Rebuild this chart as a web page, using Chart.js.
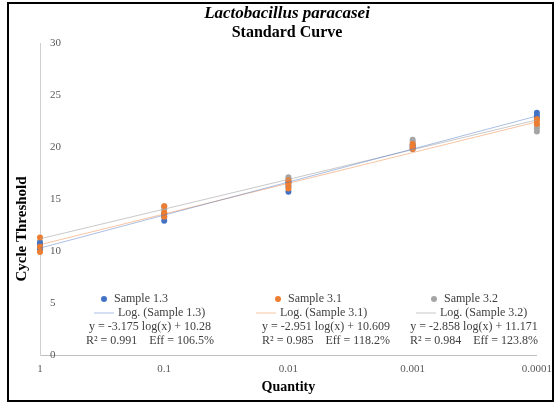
<!DOCTYPE html>
<html>
<head>
<meta charset="utf-8">
<script src="https://cdn.jsdelivr.net/npm/chart.js@4.4.1/dist/chart.umd.min.js"></script>
<style>
    body { margin: 0; background: #fff; }
    #frame { position: absolute; left: 7px; top: 2px; width: 543px; height: 396px; border: 2px solid #000; }
    #wrap { position: absolute; left: 9px; top: 4px; width: 551px; height: 396px; }
</style>
</head>
<body>
<div id="frame"></div>
<div id="wrap"><canvas id="chart" width="551" height="396"></canvas></div>
<script>
// quantities on the x axis (dilution series)
const quantities = [1, 0.1, 0.01, 0.001, 0.0001];
const xTickLabels = ['1', '0.1', '0.01', '0.001', '0.0001'];

// Ct replicates per quantity
const sample13 = [[10.2, 10.5, 10.8], [12.9, 13.3, 13.6], [15.7, 16.2, 16.6], [19.8, 20.0, 20.2], [22.8, 23.0, 23.3]];
const sample31 = [[9.9, 10.4, 11.3], [13.3, 13.7, 14.3], [16.0, 16.4, 16.8], [19.8, 20.0, 20.3], [22.2, 22.5, 22.7]];
const sample32 = [[10.5, 10.9], [13.6, 14.0, 14.3], [16.6, 16.9, 17.1], [20.2, 20.5, 20.7], [21.5, 21.8, 22.1]];

// trendline ends at x = 1 and x = 0.0001
const trendX = [1, 0.0001];
const trend13 = [10.28, 22.98];
const trend31 = [10.609, 22.413];
const trend32 = [11.171, 22.603];

const sampleNames = ['Sample 1.3', 'Sample 3.1', 'Sample 3.2'];
const trendNames = ['Log. (Sample 1.3)', 'Log. (Sample 3.1)', 'Log. (Sample 3.2)'];
const equations = ['y = -3.175 log(x) + 10.28', 'y = -2.951 log(x) + 10.609', 'y = -2.858 log(x) + 11.171'];
const fitStats = ['R\u00b2 = 0.991    Eff = 106.5%', 'R\u00b2 = 0.985    Eff = 118.2%', 'R\u00b2 = 0.984    Eff = 123.8%'];

const colors = ['#4472C4', '#ED7D31', '#A5A5A5'];
const trendColors = ['rgba(68,114,196,0.45)', 'rgba(237,125,49,0.45)', 'rgba(165,165,165,0.6)'];
const serif = '"Liberation Serif", "DejaVu Serif", serif';

function toPoints(reps) {
    const pts = [];
    reps.forEach((list, i) => list.forEach(v => pts.push({ x: quantities[i], y: v })));
    return pts;
}
function toLine(vals) {
    return vals.map((v, i) => ({ x: trendX[i], y: v }));
}

// title, y title and legend block, drawn over the plot like the Excel chart
const overlay = {
    id: 'overlay',
    afterDraw(chart) {
        const ctx = chart.ctx;
        const ox = -9, oy = -4; // page -> canvas
        ctx.save();
        ctx.fillStyle = '#000';
        ctx.textAlign = 'center';
        ctx.textBaseline = 'middle';
        ctx.font = 'italic bold 17px ' + serif;
        ctx.fillText('Lactobacillus paracasei', 287 + ox, 14 + oy);
        ctx.font = 'bold 16px ' + serif;
        ctx.fillText('Standard Curve', 287 + ox, 33 + oy);

        // y axis title
        ctx.save();
        ctx.translate(22 + ox, 229 + oy);
        ctx.rotate(-Math.PI / 2);
        ctx.font = 'bold 15px ' + serif;
        ctx.fillText('Cycle Threshold', 0, 0);
        ctx.restore();

        ctx.font = '12px ' + serif;
        const markX = [104, 278, 434];
        const lineX = [94, 256, 416];
        const eqX = [150, 326, 474];
        for (let i = 0; i < 3; i++) {
            // marker row
            ctx.fillStyle = colors[i];
            ctx.beginPath();
            ctx.arc(markX[i] + ox, 299 + oy, 3, 0, Math.PI * 2);
            ctx.fill();
            ctx.fillStyle = '#404040';
            ctx.textAlign = 'left';
            ctx.fillText(sampleNames[i], markX[i] + 10 + ox, 299 + oy);
            // trendline row
            ctx.strokeStyle = trendColors[i];
            ctx.lineWidth = 1;
            ctx.beginPath();
            ctx.moveTo(lineX[i] + ox, 313 + oy);
            ctx.lineTo(lineX[i] + 20 + ox, 313 + oy);
            ctx.stroke();
            ctx.fillText(trendNames[i], lineX[i] + 24 + ox, 313 + oy);
            // equation labels
            ctx.textAlign = 'center';
            ctx.fillText(equations[i], eqX[i] + ox, 327 + oy);
            ctx.fillText(fitStats[i], eqX[i] + ox, 341 + oy);
        }
        ctx.restore();
    }
};

const datasets = [];
const drawOrder = [9, 8, 10];
[sample13, sample31, sample32].forEach((s, i) => {
    datasets.push({
        type: 'scatter',
        label: sampleNames[i],
        data: toPoints(s),
        backgroundColor: colors[i],
        borderColor: colors[i],
        pointRadius: 3,
        pointBorderWidth: 0,
        clip: false,
        order: drawOrder[i]
    });
});
[trend13, trend31, trend32].forEach((t, i) => {
    datasets.push({
        type: 'line',
        label: trendNames[i],
        data: toLine(t),
        borderColor: trendColors[i],
        borderWidth: 1,
        pointRadius: 0,
        fill: false,
        clip: false,
        order: 1
    });
});

new Chart(document.getElementById('chart'), {
    type: 'scatter',
    data: { datasets: datasets },
    plugins: [overlay],
    options: {
        responsive: false,
        animation: false,
        devicePixelRatio: 1,
        layout: { padding: { top: 39, right: 0, bottom: 2, left: 3 } },
        plugins: {
            legend: { display: false },
            tooltip: { enabled: false }
        },
        scales: {
            x: {
                type: 'logarithmic',
                reverse: true,
                min: 0.0001,
                max: 1,
                grid: { display: false, drawTicks: false },
                border: { color: '#bfbfbf' },
                afterBuildTicks: axis => { axis.ticks = quantities.map(v => ({ value: v })); },
                afterFit: axis => { axis.height = 43; },
                ticks: {
                    padding: 8,
                    color: '#595959',
                    font: { family: serif, size: 11 },
                    maxRotation: 0,
                    callback: v => xTickLabels[quantities.indexOf(v)]
                },
                title: {
                    display: true,
                    text: 'Quantity',
                    color: '#000',
                    font: { family: serif, size: 14, weight: 'bold' },
                    padding: { top: 2, bottom: 2 }
                }
            },
            y: {
                min: 0,
                max: 30,
                grid: { display: false, drawTicks: false },
                border: { color: '#d0d0d0' },
                afterFit: axis => { axis.width = 28; },
                ticks: {
                    stepSize: 5,
                    mirror: true,
                    padding: 10,
                    color: '#595959',
                    font: { family: serif, size: 11 }
                }
            }
        }
    }
});
</script>
</body>
</html>
